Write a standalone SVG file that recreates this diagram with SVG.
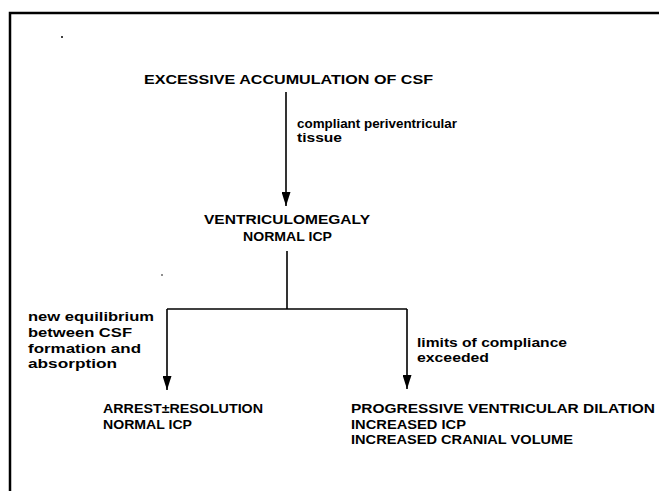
<svg xmlns="http://www.w3.org/2000/svg" width="659" height="491" viewBox="0 0 659 491">
<style>
.cap{font-family:"Liberation Sans",Arial,sans-serif;font-weight:bold;font-size:13.5px;fill:#000}
.lab{font-family:"Liberation Sans",Arial,sans-serif;font-weight:bold;font-size:13px;fill:#000}
.ln{stroke:#000;stroke-width:1.6;fill:none}
.frame{stroke:#000;stroke-width:2.5;fill:none}
</style>
<defs>
<marker id="arr" markerWidth="14" markerHeight="9" refX="14" refY="4.5" orient="auto" markerUnits="userSpaceOnUse" viewBox="0 0 14 9">
<path d="M0,0 L14,4.5 L0,9 Z" fill="#000"/>
</marker>
</defs>
<path class="frame" d="M10,491 L10,13 L659,13"/>
<circle cx="62" cy="37" r="1" fill="#000"/>
<circle cx="162" cy="275" r="0.8" fill="#000"/>
<g id="connectors">
<line class="ln" x1="286" y1="92" x2="286" y2="206" marker-end="url(#arr)"/>
<path class="ln" d="M287,251 L287,309"/>
<path class="ln" d="M167,309 L407,309"/>
<line class="ln" x1="167" y1="309" x2="167" y2="390" marker-end="url(#arr)"/>
<line class="ln" x1="407" y1="309" x2="407" y2="389" marker-end="url(#arr)"/>
<text class="lab" x="297" y="128" textLength="160" lengthAdjust="spacingAndGlyphs">compliant periventricular</text>
<text class="lab" x="297" y="142" textLength="45" lengthAdjust="spacingAndGlyphs">tissue</text>
<text class="lab" x="28" y="321" textLength="126" lengthAdjust="spacingAndGlyphs">new equilibrium</text>
<text class="lab" x="28" y="337" textLength="104" lengthAdjust="spacingAndGlyphs">between CSF</text>
<text class="lab" x="28" y="353" textLength="113" lengthAdjust="spacingAndGlyphs">formation and</text>
<text class="lab" x="28" y="368" textLength="89" lengthAdjust="spacingAndGlyphs">absorption</text>
<text class="lab" x="417" y="347" textLength="150" lengthAdjust="spacingAndGlyphs">limits of compliance</text>
<text class="lab" x="417" y="362" textLength="72" lengthAdjust="spacingAndGlyphs">exceeded</text>
</g>
<g id="n1"><text class="cap" x="144" y="84" textLength="289" lengthAdjust="spacingAndGlyphs">EXCESSIVE ACCUMULATION OF CSF</text></g>
<g id="n2">
<text class="cap" x="204" y="224" textLength="166" lengthAdjust="spacingAndGlyphs">VENTRICULOMEGALY</text>
<text class="cap" x="243" y="241" textLength="89" lengthAdjust="spacingAndGlyphs">NORMAL ICP</text>
</g>
<g id="n3">
<text class="cap" x="103" y="413" textLength="160" lengthAdjust="spacingAndGlyphs">ARREST±RESOLUTION</text>
<text class="cap" x="103" y="429" textLength="89" lengthAdjust="spacingAndGlyphs">NORMAL ICP</text>
</g>
<g id="n4">
<text class="cap" x="351" y="413" textLength="304" lengthAdjust="spacingAndGlyphs">PROGRESSIVE VENTRICULAR DILATION</text>
<text class="cap" x="351" y="429" textLength="115" lengthAdjust="spacingAndGlyphs">INCREASED ICP</text>
<text class="cap" x="351" y="444" textLength="222" lengthAdjust="spacingAndGlyphs">INCREASED CRANIAL VOLUME</text>
</g>
</svg>
